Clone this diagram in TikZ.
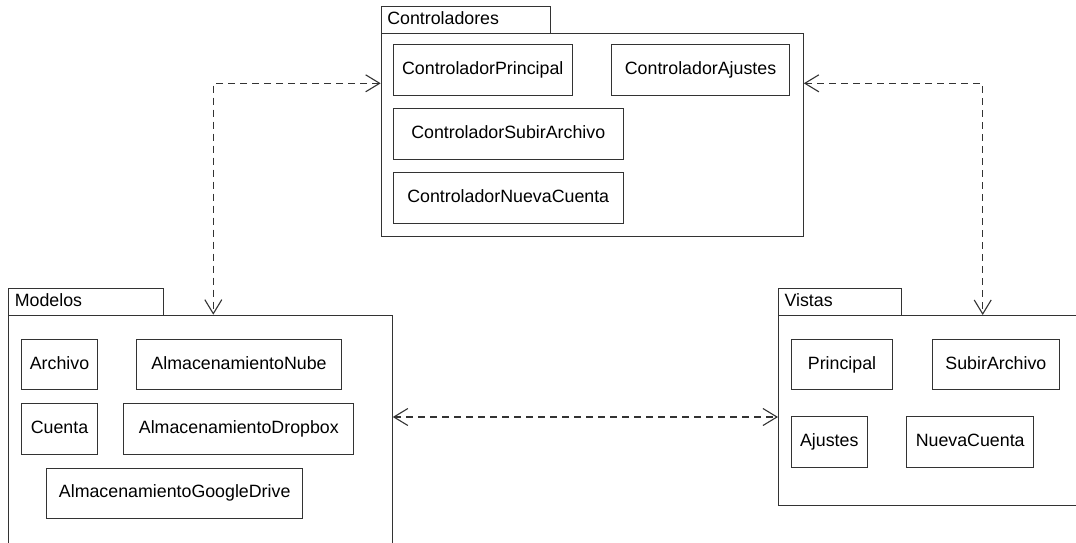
\documentclass[tikz,border=0pt]{standalone}
\usepackage{fontspec}
\setmainfont{Liberation Sans}
\usetikzlibrary{arrows.meta}
\definecolor{ink}{HTML}{333333}
\newcommand\lblfont{\fontsize{17.8}{20}\selectfont}
\tikzset{
  umlcls/.style={draw=ink, line width=1.1pt, inner sep=0pt, anchor=north west,
    font=\lblfont, text=black, text height=13pt, text depth=3.8pt},
  pkgbody/.style={draw=ink, line width=1.1pt, inner sep=0pt, anchor=north west},
  pkgtab/.style={draw=ink, line width=1.1pt, inner xsep=6pt, inner ysep=0pt,
    anchor=north west, font=\lblfont, align=left, text height=13pt, text depth=3.8pt},
  depline/.style={draw=ink, line width=1.1pt, dash pattern=on 7pt off 5pt,
    {Straight Barb[length=14pt,width=17pt,line width=1.1pt]}-{Straight Barb[length=14pt,width=17pt,line width=1.1pt]}},
}
\begin{document}
\begin{tikzpicture}[x=1pt,y=-1pt]
\useasboundingbox (0,0) rectangle (1076,542);

% Controladores package
\node[pkgtab, minimum height=27pt, text width=157.3pt] (ctab) at (380.7,5.7) {Controladores};
\node[pkgbody, minimum width=422pt, minimum height=203pt] (cpkg) at (380.7,32.7) {};
\node[umlcls, minimum width=179pt, minimum height=50.4pt] (cprin) at (392.7,44.3) {ControladorPrincipal};
\node[umlcls, minimum width=178.6pt, minimum height=50.4pt] (cajus) at (610.7,44.3) {ControladorAjustes};
\node[umlcls, minimum width=230pt, minimum height=50.4pt] (csub) at (392.7,108.3) {ControladorSubirArchivo};
\node[umlcls, minimum width=230pt, minimum height=50.4pt] (cnue) at (392.7,172.3) {ControladorNuevaCuenta};

% Modelos package
\node[pkgtab, minimum height=26.4pt, text width=142.4pt] (mtab) at (8.3,288.3) {Modelos};
\node[pkgbody, minimum width=383.4pt, minimum height=250pt] (mpkg) at (8.3,314.7) {};
\node[umlcls, minimum width=76pt, minimum height=50pt] (march) at (21,339.3) {Archivo};
\node[umlcls, minimum width=204.4pt, minimum height=50pt] (mnube) at (136.3,339.3) {AlmacenamientoNube};
\node[umlcls, minimum width=76pt, minimum height=50.4pt] (mcue) at (21,403.3) {Cuenta};
\node[umlcls, minimum width=230pt, minimum height=50.4pt] (mdrop) at (123.3,403.3) {AlmacenamientoDropbox};
\node[umlcls, minimum width=255.7pt, minimum height=50pt] (mgdr) at (46.3,467.7) {AlmacenamientoGoogleDrive};

% Vistas package
\node[pkgtab, minimum height=26.7pt, text width=111.3pt] (vtab) at (778,288.3) {Vistas};
\node[pkgbody, minimum width=320pt, minimum height=190pt] (vpkg) at (778,315) {};
\node[umlcls, minimum width=101.6pt, minimum height=50pt] (vprin) at (790.7,339.3) {Principal};
\node[umlcls, minimum width=127.3pt, minimum height=50pt] (vsub) at (931.7,339.3) {SubirArchivo};
\node[umlcls, minimum width=76pt, minimum height=50.7pt] (vajus) at (790.7,416) {Ajustes};
\node[umlcls, minimum width=127.3pt, minimum height=50.7pt] (vnue) at (906,416) {NuevaCuenta};

% dependencies between packages
\coordinate (bendL) at (213.3,83.3);
\coordinate (bendR) at (982.7,83.3);
\coordinate (midrow) at (585,417);
\draw[depline] (cpkg.west |- bendL) -- (bendL) -- (mpkg.north -| bendL);
\draw[depline] (cpkg.east |- bendR) -- (bendR) -- (vpkg.north -| bendR);
\draw[depline] (mpkg.east |- midrow) -- (vpkg.west |- midrow);
\end{tikzpicture}
\end{document}
